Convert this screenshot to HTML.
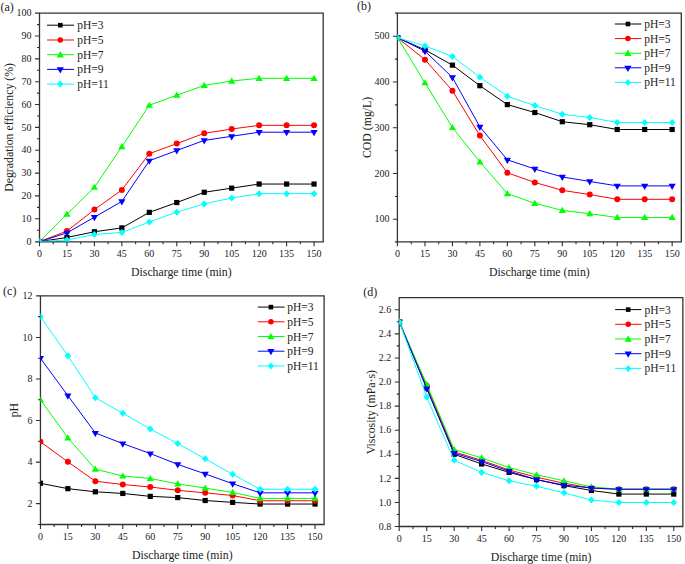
<!DOCTYPE html><html><head><meta charset="utf-8"><style>html,body{margin:0;padding:0;background:#fff;width:685px;height:564px;overflow:hidden}svg{display:block}text{font-family:"Liberation Serif", serif;fill:#222}</style></head><body>
<svg width="685" height="564" viewBox="0 0 685 564">
<g><text x="0.4" y="11.2" font-size="12">(a)</text><path d="M39.5 13.1H323.2V241.85H39.5Z" fill="none" stroke="#333333" stroke-width="1.3"/><text x="39.5" y="257.4" font-size="10" text-anchor="middle">0</text><text x="66.95" y="257.4" font-size="10" text-anchor="middle">15</text><text x="94.41" y="257.4" font-size="10" text-anchor="middle">30</text><text x="121.86" y="257.4" font-size="10" text-anchor="middle">45</text><text x="149.32" y="257.4" font-size="10" text-anchor="middle">60</text><text x="176.77" y="257.4" font-size="10" text-anchor="middle">75</text><text x="204.23" y="257.4" font-size="10" text-anchor="middle">90</text><text x="231.68" y="257.4" font-size="10" text-anchor="middle">105</text><text x="259.14" y="257.4" font-size="10" text-anchor="middle">120</text><text x="286.59" y="257.4" font-size="10" text-anchor="middle">135</text><text x="314.05" y="257.4" font-size="10" text-anchor="middle">150</text><text x="31.5" y="244.7" font-size="10" text-anchor="end">0</text><text x="31.5" y="221.86" font-size="10" text-anchor="end">10</text><text x="31.5" y="199.02" font-size="10" text-anchor="end">20</text><text x="31.5" y="176.18" font-size="10" text-anchor="end">30</text><text x="31.5" y="153.34" font-size="10" text-anchor="end">40</text><text x="31.5" y="130.5" font-size="10" text-anchor="end">50</text><text x="31.5" y="107.66" font-size="10" text-anchor="end">60</text><text x="31.5" y="84.82" font-size="10" text-anchor="end">70</text><text x="31.5" y="61.98" font-size="10" text-anchor="end">80</text><text x="31.5" y="39.14" font-size="10" text-anchor="end">90</text><text x="31.5" y="16.3" font-size="10" text-anchor="end">100</text><path d="M39.5 241.85V246.35M66.95 241.85V246.35M94.41 241.85V246.35M121.86 241.85V246.35M149.32 241.85V246.35M176.77 241.85V246.35M204.23 241.85V246.35M231.68 241.85V246.35M259.14 241.85V246.35M286.59 241.85V246.35M314.05 241.85V246.35M53.23 241.85V244.35M80.68 241.85V244.35M108.14 241.85V244.35M135.59 241.85V244.35M163.05 241.85V244.35M190.5 241.85V244.35M217.96 241.85V244.35M245.41 241.85V244.35M272.87 241.85V244.35M300.32 241.85V244.35M39.5 241.85H35M39.5 218.76H35M39.5 195.92H35M39.5 173.08H35M39.5 150.24H35M39.5 127.4H35M39.5 104.56H35M39.5 81.72H35M39.5 58.88H35M39.5 36.04H35M39.5 13.1H35M39.5 230.18H37M39.5 207.34H37M39.5 184.5H37M39.5 161.66H37M39.5 138.82H37M39.5 115.98H37M39.5 93.14H37M39.5 70.3H37M39.5 47.46H37M39.5 24.62H37" stroke="#303030" stroke-width="1.1" fill="none"/><text x="181.35" y="275.9" font-size="11.8" text-anchor="middle">Discharge time (min)</text><text transform="translate(12.7 127.4) rotate(-90)" font-size="11.8" text-anchor="middle">Degradation efficiency (%)</text><clipPath id="c0"><rect x="39.5" y="13.2" width="283.7" height="228.4"/></clipPath><g clip-path="url(#c0)"><polyline points="39.5,241.6 66.95,237.49 94.41,231.78 121.86,227.9 149.32,212.36 176.77,202.54 204.23,192.27 231.68,188.15 259.14,184.04 286.59,184.04 314.05,184.04" fill="none" stroke="#000000" stroke-width="1"/><rect x="36.9" y="239" width="5.2" height="5.2" fill="#000000"/><rect x="64.35" y="234.89" width="5.2" height="5.2" fill="#000000"/><rect x="91.81" y="229.18" width="5.2" height="5.2" fill="#000000"/><rect x="119.26" y="225.3" width="5.2" height="5.2" fill="#000000"/><rect x="146.72" y="209.76" width="5.2" height="5.2" fill="#000000"/><rect x="174.17" y="199.94" width="5.2" height="5.2" fill="#000000"/><rect x="201.63" y="189.67" width="5.2" height="5.2" fill="#000000"/><rect x="229.08" y="185.55" width="5.2" height="5.2" fill="#000000"/><rect x="256.54" y="181.44" width="5.2" height="5.2" fill="#000000"/><rect x="283.99" y="181.44" width="5.2" height="5.2" fill="#000000"/><rect x="311.45" y="181.44" width="5.2" height="5.2" fill="#000000"/><polyline points="39.5,241.6 66.95,231.09 94.41,209.62 121.86,189.98 149.32,153.67 176.77,143.62 204.23,133.34 231.68,129 259.14,125.34 286.59,125.34 314.05,125.34" fill="none" stroke="#ff0000" stroke-width="1"/><circle cx="39.5" cy="241.6" r="3" fill="#ff0000"/><circle cx="66.95" cy="231.09" r="3" fill="#ff0000"/><circle cx="94.41" cy="209.62" r="3" fill="#ff0000"/><circle cx="121.86" cy="189.98" r="3" fill="#ff0000"/><circle cx="149.32" cy="153.67" r="3" fill="#ff0000"/><circle cx="176.77" cy="143.62" r="3" fill="#ff0000"/><circle cx="204.23" cy="133.34" r="3" fill="#ff0000"/><circle cx="231.68" cy="129" r="3" fill="#ff0000"/><circle cx="259.14" cy="125.34" r="3" fill="#ff0000"/><circle cx="286.59" cy="125.34" r="3" fill="#ff0000"/><circle cx="314.05" cy="125.34" r="3" fill="#ff0000"/><polyline points="39.5,241.6 66.95,214.19 94.41,187.24 121.86,146.59 149.32,105.25 176.77,95.2 204.23,85.37 231.68,81.03 259.14,78.29 286.59,78.29 314.05,78.29" fill="none" stroke="#00ff00" stroke-width="1"/><path d="M39.5 238L43.1 244.2L35.9 244.2Z" fill="#00ff00"/><path d="M66.95 210.59L70.55 216.79L63.35 216.79Z" fill="#00ff00"/><path d="M94.41 183.64L98.01 189.84L90.81 189.84Z" fill="#00ff00"/><path d="M121.86 142.99L125.46 149.19L118.26 149.19Z" fill="#00ff00"/><path d="M149.32 101.65L152.92 107.85L145.72 107.85Z" fill="#00ff00"/><path d="M176.77 91.6L180.37 97.8L173.17 97.8Z" fill="#00ff00"/><path d="M204.23 81.77L207.83 87.97L200.63 87.97Z" fill="#00ff00"/><path d="M231.68 77.43L235.28 83.63L228.08 83.63Z" fill="#00ff00"/><path d="M259.14 74.69L262.74 80.89L255.54 80.89Z" fill="#00ff00"/><path d="M286.59 74.69L290.19 80.89L282.99 80.89Z" fill="#00ff00"/><path d="M314.05 74.69L317.65 80.89L310.45 80.89Z" fill="#00ff00"/><polyline points="39.5,241.6 66.95,232.92 94.41,217.16 121.86,201.4 149.32,160.75 176.77,150.47 204.23,140.42 231.68,136.31 259.14,132.2 286.59,132.2 314.05,132.2" fill="none" stroke="#0000ff" stroke-width="1"/><path d="M39.5 245.69L43.1 239.49L35.9 239.49Z" fill="#0000ff"/><path d="M66.95 237.01L70.55 230.81L63.35 230.81Z" fill="#0000ff"/><path d="M94.41 221.25L98.01 215.05L90.81 215.05Z" fill="#0000ff"/><path d="M121.86 205.49L125.46 199.29L118.26 199.29Z" fill="#0000ff"/><path d="M149.32 164.84L152.92 158.64L145.72 158.64Z" fill="#0000ff"/><path d="M176.77 154.56L180.37 148.36L173.17 148.36Z" fill="#0000ff"/><path d="M204.23 144.51L207.83 138.31L200.63 138.31Z" fill="#0000ff"/><path d="M231.68 140.4L235.28 134.2L228.08 134.2Z" fill="#0000ff"/><path d="M259.14 136.29L262.74 130.09L255.54 130.09Z" fill="#0000ff"/><path d="M286.59 136.29L290.19 130.09L282.99 130.09Z" fill="#0000ff"/><path d="M314.05 136.29L317.65 130.09L310.45 130.09Z" fill="#0000ff"/><polyline points="39.5,241.6 66.95,240 94.41,234.52 121.86,232.46 149.32,221.96 176.77,212.14 204.23,203.91 231.68,197.98 259.14,193.64 286.59,193.64 314.05,193.64" fill="none" stroke="#00ffff" stroke-width="1"/><path d="M39.5 238.1L42.85 241.6L39.5 245.1L36.15 241.6Z" fill="#00ffff"/><path d="M66.95 236.5L70.3 240L66.95 243.5L63.6 240Z" fill="#00ffff"/><path d="M94.41 231.02L97.76 234.52L94.41 238.02L91.06 234.52Z" fill="#00ffff"/><path d="M121.86 228.96L125.21 232.46L121.86 235.96L118.51 232.46Z" fill="#00ffff"/><path d="M149.32 218.46L152.67 221.96L149.32 225.46L145.97 221.96Z" fill="#00ffff"/><path d="M176.77 208.64L180.12 212.14L176.77 215.64L173.42 212.14Z" fill="#00ffff"/><path d="M204.23 200.41L207.58 203.91L204.23 207.41L200.88 203.91Z" fill="#00ffff"/><path d="M231.68 194.48L235.03 197.98L231.68 201.48L228.33 197.98Z" fill="#00ffff"/><path d="M259.14 190.14L262.49 193.64L259.14 197.14L255.79 193.64Z" fill="#00ffff"/><path d="M286.59 190.14L289.94 193.64L286.59 197.14L283.24 193.64Z" fill="#00ffff"/><path d="M314.05 190.14L317.4 193.64L314.05 197.14L310.7 193.64Z" fill="#00ffff"/></g><path d="M47.1 25.2H74" stroke="#000000" stroke-width="1"/><rect x="58" y="22.9" width="4.6" height="4.6" fill="#000000"/><text transform="translate(77.2 29.2) scale(0.96 1)" font-size="12">pH=3</text><path d="M47.1 40H74" stroke="#ff0000" stroke-width="1"/><circle cx="60.3" cy="40" r="2.75" fill="#ff0000"/><text transform="translate(77.2 44) scale(0.96 1)" font-size="12">pH=5</text><path d="M47.1 54.7H74" stroke="#00ff00" stroke-width="1"/><path d="M60.3 51.1L63.9 57.4L56.7 57.4Z" fill="#00ff00"/><text transform="translate(77.2 58.7) scale(0.96 1)" font-size="12">pH=7</text><path d="M47.1 69.4H74" stroke="#0000ff" stroke-width="1"/><path d="M60.3 73.56L63.9 67.26L56.7 67.26Z" fill="#0000ff"/><text transform="translate(77.2 73.4) scale(0.96 1)" font-size="12">pH=9</text><path d="M47.1 84.1H74" stroke="#00ffff" stroke-width="1"/><path d="M60.3 80.6L63.3 84.1L60.3 87.6L57.3 84.1Z" fill="#00ffff"/><text transform="translate(77.2 88.1) scale(0.96 1)" font-size="12">pH=11</text></g>
<g><text x="357" y="9.8" font-size="12">(b)</text><path d="M397.4 13.1H681.3V241.85H397.4Z" fill="none" stroke="#333333" stroke-width="1.3"/><text x="397.5" y="257.4" font-size="10" text-anchor="middle">0</text><text x="424.96" y="257.4" font-size="10" text-anchor="middle">15</text><text x="452.43" y="257.4" font-size="10" text-anchor="middle">30</text><text x="479.89" y="257.4" font-size="10" text-anchor="middle">45</text><text x="507.36" y="257.4" font-size="10" text-anchor="middle">60</text><text x="534.82" y="257.4" font-size="10" text-anchor="middle">75</text><text x="562.29" y="257.4" font-size="10" text-anchor="middle">90</text><text x="589.75" y="257.4" font-size="10" text-anchor="middle">105</text><text x="617.22" y="257.4" font-size="10" text-anchor="middle">120</text><text x="644.68" y="257.4" font-size="10" text-anchor="middle">135</text><text x="672.15" y="257.4" font-size="10" text-anchor="middle">150</text><text x="389.5" y="222.4" font-size="10" text-anchor="end">100</text><text x="389.5" y="176.65" font-size="10" text-anchor="end">200</text><text x="389.5" y="130.9" font-size="10" text-anchor="end">300</text><text x="389.5" y="85.15" font-size="10" text-anchor="end">400</text><text x="389.5" y="39.4" font-size="10" text-anchor="end">500</text><path d="M397.4 241.85V246.35M424.96 241.85V246.35M452.43 241.85V246.35M479.89 241.85V246.35M507.36 241.85V246.35M534.82 241.85V246.35M562.29 241.85V246.35M589.75 241.85V246.35M617.22 241.85V246.35M644.68 241.85V246.35M672.15 241.85V246.35M411.23 241.85V244.35M438.7 241.85V244.35M466.16 241.85V244.35M493.63 241.85V244.35M521.09 241.85V244.35M548.55 241.85V244.35M576.02 241.85V244.35M603.48 241.85V244.35M630.95 241.85V244.35M658.41 241.85V244.35M397.4 219.3H392.9M397.4 173.55H392.9M397.4 127.8H392.9M397.4 82.05H392.9M397.4 36.3H392.9M397.4 241.85H394.9M397.4 196.43H394.9M397.4 150.68H394.9M397.4 104.92H394.9M397.4 59.17H394.9M397.4 13.1H394.9" stroke="#303030" stroke-width="1.1" fill="none"/><text x="539.4" y="275.9" font-size="11.8" text-anchor="middle">Discharge time (min)</text><text transform="translate(371.3 127.4) rotate(-90)" font-size="11.8" text-anchor="middle">COD (mg/L)</text><clipPath id="c1"><rect x="397.5" y="13.2" width="283.8" height="228.4"/></clipPath><g clip-path="url(#c1)"><polyline points="397.5,37.67 424.96,49.8 452.43,65.12 479.89,85.71 507.36,104.6 534.82,112.52 562.29,121.72 589.75,124.69 617.22,129.49 644.68,129.49 672.15,129.49" fill="none" stroke="#000000" stroke-width="1"/><rect x="394.9" y="35.07" width="5.2" height="5.2" fill="#000000"/><rect x="422.36" y="47.2" width="5.2" height="5.2" fill="#000000"/><rect x="449.83" y="62.52" width="5.2" height="5.2" fill="#000000"/><rect x="477.29" y="83.11" width="5.2" height="5.2" fill="#000000"/><rect x="504.76" y="102" width="5.2" height="5.2" fill="#000000"/><rect x="532.22" y="109.92" width="5.2" height="5.2" fill="#000000"/><rect x="559.69" y="119.12" width="5.2" height="5.2" fill="#000000"/><rect x="587.15" y="122.09" width="5.2" height="5.2" fill="#000000"/><rect x="614.62" y="126.89" width="5.2" height="5.2" fill="#000000"/><rect x="642.08" y="126.89" width="5.2" height="5.2" fill="#000000"/><rect x="669.55" y="126.89" width="5.2" height="5.2" fill="#000000"/><polyline points="397.5,37.67 424.96,59.63 452.43,90.74 479.89,135.58 507.36,172.77 534.82,182.47 562.29,190.34 589.75,194.59 617.22,199.31 644.68,199.31 672.15,199.31" fill="none" stroke="#ff0000" stroke-width="1"/><circle cx="397.5" cy="37.67" r="3" fill="#ff0000"/><circle cx="424.96" cy="59.63" r="3" fill="#ff0000"/><circle cx="452.43" cy="90.74" r="3" fill="#ff0000"/><circle cx="479.89" cy="135.58" r="3" fill="#ff0000"/><circle cx="507.36" cy="172.77" r="3" fill="#ff0000"/><circle cx="534.82" cy="182.47" r="3" fill="#ff0000"/><circle cx="562.29" cy="190.34" r="3" fill="#ff0000"/><circle cx="589.75" cy="194.59" r="3" fill="#ff0000"/><circle cx="617.22" cy="199.31" r="3" fill="#ff0000"/><circle cx="644.68" cy="199.31" r="3" fill="#ff0000"/><circle cx="672.15" cy="199.31" r="3" fill="#ff0000"/><polyline points="397.5,37.67 424.96,82.74 452.43,127.48 479.89,161.88 507.36,193.68 534.82,203.29 562.29,210.42 589.75,213.72 617.22,217.47 644.68,217.47 672.15,217.47" fill="none" stroke="#00ff00" stroke-width="1"/><path d="M397.5 34.07L401.1 40.27L393.9 40.27Z" fill="#00ff00"/><path d="M424.96 79.14L428.56 85.34L421.36 85.34Z" fill="#00ff00"/><path d="M452.43 123.88L456.03 130.08L448.83 130.08Z" fill="#00ff00"/><path d="M479.89 158.28L483.49 164.48L476.29 164.48Z" fill="#00ff00"/><path d="M507.36 190.08L510.96 196.28L503.76 196.28Z" fill="#00ff00"/><path d="M534.82 199.69L538.42 205.89L531.22 205.89Z" fill="#00ff00"/><path d="M562.29 206.82L565.89 213.02L558.69 213.02Z" fill="#00ff00"/><path d="M589.75 210.12L593.35 216.32L586.15 216.32Z" fill="#00ff00"/><path d="M617.22 213.87L620.82 220.07L613.62 220.07Z" fill="#00ff00"/><path d="M644.68 213.87L648.28 220.07L641.08 220.07Z" fill="#00ff00"/><path d="M672.15 213.87L675.75 220.07L668.55 220.07Z" fill="#00ff00"/><polyline points="397.5,37.67 424.96,51.17 452.43,77.47 479.89,126.88 507.36,159.82 534.82,168.97 562.29,176.94 589.75,181.46 617.22,185.9 644.68,185.9 672.15,185.9" fill="none" stroke="#0000ff" stroke-width="1"/><path d="M397.5 41.76L401.1 35.56L393.9 35.56Z" fill="#0000ff"/><path d="M424.96 55.26L428.56 49.06L421.36 49.06Z" fill="#0000ff"/><path d="M452.43 81.57L456.03 75.37L448.83 75.37Z" fill="#0000ff"/><path d="M479.89 130.98L483.49 124.78L476.29 124.78Z" fill="#0000ff"/><path d="M507.36 163.92L510.96 157.72L503.76 157.72Z" fill="#0000ff"/><path d="M534.82 173.07L538.42 166.87L531.22 166.87Z" fill="#0000ff"/><path d="M562.29 181.03L565.89 174.83L558.69 174.83Z" fill="#0000ff"/><path d="M589.75 185.56L593.35 179.36L586.15 179.36Z" fill="#0000ff"/><path d="M617.22 189.99L620.82 183.79L613.62 183.79Z" fill="#0000ff"/><path d="M644.68 189.99L648.28 183.79L641.08 183.79Z" fill="#0000ff"/><path d="M672.15 189.99L675.75 183.79L668.55 183.79Z" fill="#0000ff"/><polyline points="397.5,37.67 424.96,45.91 452.43,56.43 479.89,77.25 507.36,96.23 534.82,105.61 562.29,114.21 589.75,117.51 617.22,122.49 644.68,122.49 672.15,122.49" fill="none" stroke="#00ffff" stroke-width="1"/><path d="M397.5 34.17L400.85 37.67L397.5 41.17L394.15 37.67Z" fill="#00ffff"/><path d="M424.96 42.41L428.31 45.91L424.96 49.41L421.61 45.91Z" fill="#00ffff"/><path d="M452.43 52.93L455.78 56.43L452.43 59.93L449.08 56.43Z" fill="#00ffff"/><path d="M479.89 73.75L483.24 77.25L479.89 80.75L476.54 77.25Z" fill="#00ffff"/><path d="M507.36 92.73L510.71 96.23L507.36 99.73L504.01 96.23Z" fill="#00ffff"/><path d="M534.82 102.11L538.17 105.61L534.82 109.11L531.47 105.61Z" fill="#00ffff"/><path d="M562.29 110.71L565.64 114.21L562.29 117.71L558.94 114.21Z" fill="#00ffff"/><path d="M589.75 114.01L593.1 117.51L589.75 121.01L586.4 117.51Z" fill="#00ffff"/><path d="M617.22 118.99L620.57 122.49L617.22 125.99L613.87 122.49Z" fill="#00ffff"/><path d="M644.68 118.99L648.03 122.49L644.68 125.99L641.33 122.49Z" fill="#00ffff"/><path d="M672.15 118.99L675.5 122.49L672.15 125.99L668.8 122.49Z" fill="#00ffff"/></g><path d="M614.8 24H641.4" stroke="#000000" stroke-width="1"/><rect x="625.6" y="21.7" width="4.6" height="4.6" fill="#000000"/><text transform="translate(644.2 28) scale(0.96 1)" font-size="12">pH=3</text><path d="M614.8 38.6H641.4" stroke="#ff0000" stroke-width="1"/><circle cx="627.9" cy="38.6" r="2.75" fill="#ff0000"/><text transform="translate(644.2 42.6) scale(0.96 1)" font-size="12">pH=5</text><path d="M614.8 53.2H641.4" stroke="#00ff00" stroke-width="1"/><path d="M627.9 49.6L631.5 55.9L624.3 55.9Z" fill="#00ff00"/><text transform="translate(644.2 57.2) scale(0.96 1)" font-size="12">pH=7</text><path d="M614.8 67.8H641.4" stroke="#0000ff" stroke-width="1"/><path d="M627.9 71.96L631.5 65.66L624.3 65.66Z" fill="#0000ff"/><text transform="translate(644.2 71.8) scale(0.96 1)" font-size="12">pH=9</text><path d="M614.8 82.4H641.4" stroke="#00ffff" stroke-width="1"/><path d="M627.9 78.9L630.9 82.4L627.9 85.9L624.9 82.4Z" fill="#00ffff"/><text transform="translate(644.2 86.4) scale(0.96 1)" font-size="12">pH=11</text></g>
<g><text x="3.1" y="294.5" font-size="12">(c)</text><path d="M40.45 295.9H324.1V524.5H40.45Z" fill="none" stroke="#333333" stroke-width="1.3"/><text x="40.4" y="540.2" font-size="10" text-anchor="middle">0</text><text x="67.86" y="540.2" font-size="10" text-anchor="middle">15</text><text x="95.33" y="540.2" font-size="10" text-anchor="middle">30</text><text x="122.79" y="540.2" font-size="10" text-anchor="middle">45</text><text x="150.26" y="540.2" font-size="10" text-anchor="middle">60</text><text x="177.72" y="540.2" font-size="10" text-anchor="middle">75</text><text x="205.19" y="540.2" font-size="10" text-anchor="middle">90</text><text x="232.65" y="540.2" font-size="10" text-anchor="middle">105</text><text x="260.12" y="540.2" font-size="10" text-anchor="middle">120</text><text x="287.58" y="540.2" font-size="10" text-anchor="middle">135</text><text x="315.05" y="540.2" font-size="10" text-anchor="middle">150</text><text x="32.4" y="506.73" font-size="10" text-anchor="end">2</text><text x="32.4" y="465.18" font-size="10" text-anchor="end">4</text><text x="32.4" y="423.64" font-size="10" text-anchor="end">6</text><text x="32.4" y="382.09" font-size="10" text-anchor="end">8</text><text x="32.4" y="340.55" font-size="10" text-anchor="end">10</text><text x="32.4" y="299" font-size="10" text-anchor="end">12</text><path d="M40.45 524.5V529M67.86 524.5V529M95.33 524.5V529M122.79 524.5V529M150.26 524.5V529M177.72 524.5V529M205.19 524.5V529M232.65 524.5V529M260.12 524.5V529M287.58 524.5V529M315.05 524.5V529M54.13 524.5V527M81.6 524.5V527M109.06 524.5V527M136.53 524.5V527M163.99 524.5V527M191.45 524.5V527M218.92 524.5V527M246.38 524.5V527M273.85 524.5V527M301.31 524.5V527M40.45 503.63H35.95M40.45 462.08H35.95M40.45 420.54H35.95M40.45 378.99H35.95M40.45 337.45H35.95M40.45 295.9H35.95M40.45 524.5H37.95M40.45 482.85H37.95M40.45 441.31H37.95M40.45 399.76H37.95M40.45 358.22H37.95M40.45 316.67H37.95" stroke="#303030" stroke-width="1.1" fill="none"/><text x="182.3" y="558.7" font-size="11.8" text-anchor="middle">Discharge time (min)</text><text transform="translate(18 410.15) rotate(-90)" font-size="11.8" text-anchor="middle">pH</text><clipPath id="c2"><rect x="40.4" y="295.9" width="283.8" height="228.5"/></clipPath><g clip-path="url(#c2)"><polyline points="40.4,483.27 67.86,488.67 95.33,491.79 122.79,493.45 150.26,496.36 177.72,497.6 205.19,500.51 232.65,502.38 260.12,504.04 287.58,504.04 315.05,504.04" fill="none" stroke="#000000" stroke-width="1"/><rect x="37.8" y="480.67" width="5.2" height="5.2" fill="#000000"/><rect x="65.26" y="486.07" width="5.2" height="5.2" fill="#000000"/><rect x="92.73" y="489.19" width="5.2" height="5.2" fill="#000000"/><rect x="120.19" y="490.85" width="5.2" height="5.2" fill="#000000"/><rect x="147.66" y="493.76" width="5.2" height="5.2" fill="#000000"/><rect x="175.12" y="495" width="5.2" height="5.2" fill="#000000"/><rect x="202.59" y="497.91" width="5.2" height="5.2" fill="#000000"/><rect x="230.05" y="499.78" width="5.2" height="5.2" fill="#000000"/><rect x="257.52" y="501.44" width="5.2" height="5.2" fill="#000000"/><rect x="284.98" y="501.44" width="5.2" height="5.2" fill="#000000"/><rect x="312.45" y="501.44" width="5.2" height="5.2" fill="#000000"/><polyline points="40.4,441.72 67.86,461.87 95.33,481.19 122.79,484.52 150.26,487.01 177.72,490.33 205.19,492.83 232.65,495.53 260.12,500.72 287.58,500.72 315.05,500.72" fill="none" stroke="#ff0000" stroke-width="1"/><circle cx="40.4" cy="441.72" r="3" fill="#ff0000"/><circle cx="67.86" cy="461.87" r="3" fill="#ff0000"/><circle cx="95.33" cy="481.19" r="3" fill="#ff0000"/><circle cx="122.79" cy="484.52" r="3" fill="#ff0000"/><circle cx="150.26" cy="487.01" r="3" fill="#ff0000"/><circle cx="177.72" cy="490.33" r="3" fill="#ff0000"/><circle cx="205.19" cy="492.83" r="3" fill="#ff0000"/><circle cx="232.65" cy="495.53" r="3" fill="#ff0000"/><circle cx="260.12" cy="500.72" r="3" fill="#ff0000"/><circle cx="287.58" cy="500.72" r="3" fill="#ff0000"/><circle cx="315.05" cy="500.72" r="3" fill="#ff0000"/><polyline points="40.4,399.76 67.86,437.78 95.33,469.14 122.79,476 150.26,478.49 177.72,483.89 205.19,488.05 232.65,492.41 260.12,498.43 287.58,498.43 315.05,498.43" fill="none" stroke="#00ff00" stroke-width="1"/><path d="M40.4 396.16L44 402.36L36.8 402.36Z" fill="#00ff00"/><path d="M67.86 434.18L71.46 440.38L64.26 440.38Z" fill="#00ff00"/><path d="M95.33 465.54L98.93 471.74L91.73 471.74Z" fill="#00ff00"/><path d="M122.79 472.4L126.39 478.6L119.19 478.6Z" fill="#00ff00"/><path d="M150.26 474.89L153.86 481.09L146.66 481.09Z" fill="#00ff00"/><path d="M177.72 480.29L181.32 486.49L174.12 486.49Z" fill="#00ff00"/><path d="M205.19 484.45L208.79 490.65L201.59 490.65Z" fill="#00ff00"/><path d="M232.65 488.81L236.25 495.01L229.05 495.01Z" fill="#00ff00"/><path d="M260.12 494.83L263.72 501.03L256.52 501.03Z" fill="#00ff00"/><path d="M287.58 494.83L291.18 501.03L283.98 501.03Z" fill="#00ff00"/><path d="M315.05 494.83L318.65 501.03L311.45 501.03Z" fill="#00ff00"/><polyline points="40.4,358.22 67.86,395.61 95.33,433 122.79,443.59 150.26,453.56 177.72,464.37 205.19,473.92 232.65,483.69 260.12,492.83 287.58,492.83 315.05,492.83" fill="none" stroke="#0000ff" stroke-width="1"/><path d="M40.4 362.31L44 356.11L36.8 356.11Z" fill="#0000ff"/><path d="M67.86 399.7L71.46 393.5L64.26 393.5Z" fill="#0000ff"/><path d="M95.33 437.09L98.93 430.89L91.73 430.89Z" fill="#0000ff"/><path d="M122.79 447.69L126.39 441.49L119.19 441.49Z" fill="#0000ff"/><path d="M150.26 457.66L153.86 451.46L146.66 451.46Z" fill="#0000ff"/><path d="M177.72 468.46L181.32 462.26L174.12 462.26Z" fill="#0000ff"/><path d="M205.19 478.01L208.79 471.81L201.59 471.81Z" fill="#0000ff"/><path d="M232.65 487.78L236.25 481.58L229.05 481.58Z" fill="#0000ff"/><path d="M260.12 496.92L263.72 490.72L256.52 490.72Z" fill="#0000ff"/><path d="M287.58 496.92L291.18 490.72L283.98 490.72Z" fill="#0000ff"/><path d="M315.05 496.92L318.65 490.72L311.45 490.72Z" fill="#0000ff"/><polyline points="40.4,316.67 67.86,355.73 95.33,397.69 122.79,413.27 150.26,429.05 177.72,443.59 205.19,458.76 232.65,474.34 260.12,489.29 287.58,489.29 315.05,489.29" fill="none" stroke="#00ffff" stroke-width="1"/><path d="M40.4 313.17L43.75 316.67L40.4 320.17L37.05 316.67Z" fill="#00ffff"/><path d="M67.86 352.23L71.21 355.73L67.86 359.23L64.51 355.73Z" fill="#00ffff"/><path d="M95.33 394.19L98.68 397.69L95.33 401.19L91.98 397.69Z" fill="#00ffff"/><path d="M122.79 409.77L126.14 413.27L122.79 416.77L119.44 413.27Z" fill="#00ffff"/><path d="M150.26 425.55L153.61 429.05L150.26 432.55L146.91 429.05Z" fill="#00ffff"/><path d="M177.72 440.09L181.07 443.59L177.72 447.09L174.37 443.59Z" fill="#00ffff"/><path d="M205.19 455.26L208.54 458.76L205.19 462.26L201.84 458.76Z" fill="#00ffff"/><path d="M232.65 470.84L236 474.34L232.65 477.84L229.3 474.34Z" fill="#00ffff"/><path d="M260.12 485.79L263.47 489.29L260.12 492.79L256.77 489.29Z" fill="#00ffff"/><path d="M287.58 485.79L290.93 489.29L287.58 492.79L284.23 489.29Z" fill="#00ffff"/><path d="M315.05 485.79L318.4 489.29L315.05 492.79L311.7 489.29Z" fill="#00ffff"/></g><path d="M257.8 307.1H284.5" stroke="#000000" stroke-width="1"/><rect x="268.6" y="304.8" width="4.6" height="4.6" fill="#000000"/><text transform="translate(287.2 311.1) scale(0.96 1)" font-size="12">pH=3</text><path d="M257.8 321.8H284.5" stroke="#ff0000" stroke-width="1"/><circle cx="270.9" cy="321.8" r="2.75" fill="#ff0000"/><text transform="translate(287.2 325.8) scale(0.96 1)" font-size="12">pH=5</text><path d="M257.8 336.5H284.5" stroke="#00ff00" stroke-width="1"/><path d="M270.9 332.9L274.5 339.2L267.3 339.2Z" fill="#00ff00"/><text transform="translate(287.2 340.5) scale(0.96 1)" font-size="12">pH=7</text><path d="M257.8 351.2H284.5" stroke="#0000ff" stroke-width="1"/><path d="M270.9 355.36L274.5 349.06L267.3 349.06Z" fill="#0000ff"/><text transform="translate(287.2 355.2) scale(0.96 1)" font-size="12">pH=9</text><path d="M257.8 365.9H284.5" stroke="#00ffff" stroke-width="1"/><path d="M270.9 362.4L273.9 365.9L270.9 369.4L267.9 365.9Z" fill="#00ffff"/><text transform="translate(287.2 369.9) scale(0.96 1)" font-size="12">pH=11</text></g>
<g><text x="363.2" y="295.7" font-size="12">(d)</text><path d="M399.2 297.6H682.85V526.5H399.2Z" fill="none" stroke="#333333" stroke-width="1.3"/><text x="399.3" y="542.4" font-size="10" text-anchor="middle">0</text><text x="426.75" y="542.4" font-size="10" text-anchor="middle">15</text><text x="454.19" y="542.4" font-size="10" text-anchor="middle">30</text><text x="481.64" y="542.4" font-size="10" text-anchor="middle">45</text><text x="509.08" y="542.4" font-size="10" text-anchor="middle">60</text><text x="536.53" y="542.4" font-size="10" text-anchor="middle">75</text><text x="563.97" y="542.4" font-size="10" text-anchor="middle">90</text><text x="591.42" y="542.4" font-size="10" text-anchor="middle">105</text><text x="618.86" y="542.4" font-size="10" text-anchor="middle">120</text><text x="646.31" y="542.4" font-size="10" text-anchor="middle">135</text><text x="673.75" y="542.4" font-size="10" text-anchor="middle">150</text><text x="391.3" y="529.7" font-size="10" text-anchor="end">0.8</text><text x="391.3" y="505.61" font-size="10" text-anchor="end">1.0</text><text x="391.3" y="481.51" font-size="10" text-anchor="end">1.2</text><text x="391.3" y="457.42" font-size="10" text-anchor="end">1.4</text><text x="391.3" y="433.32" font-size="10" text-anchor="end">1.6</text><text x="391.3" y="409.23" font-size="10" text-anchor="end">1.8</text><text x="391.3" y="385.13" font-size="10" text-anchor="end">2.0</text><text x="391.3" y="361.04" font-size="10" text-anchor="end">2.2</text><text x="391.3" y="336.94" font-size="10" text-anchor="end">2.4</text><text x="391.3" y="312.85" font-size="10" text-anchor="end">2.6</text><path d="M399.2 526.5V531M426.75 526.5V531M454.19 526.5V531M481.64 526.5V531M509.08 526.5V531M536.53 526.5V531M563.97 526.5V531M591.42 526.5V531M618.86 526.5V531M646.31 526.5V531M673.75 526.5V531M413.02 526.5V529M440.47 526.5V529M467.91 526.5V529M495.36 526.5V529M522.8 526.5V529M550.25 526.5V529M577.69 526.5V529M605.14 526.5V529M632.58 526.5V529M660.03 526.5V529M399.2 526.5H394.7M399.2 502.51H394.7M399.2 478.41H394.7M399.2 454.32H394.7M399.2 430.22H394.7M399.2 406.13H394.7M399.2 382.03H394.7M399.2 357.94H394.7M399.2 333.84H394.7M399.2 309.75H394.7M399.2 514.55H396.7M399.2 490.46H396.7M399.2 466.36H396.7M399.2 442.27H396.7M399.2 418.17H396.7M399.2 394.08H396.7M399.2 369.98H396.7M399.2 345.89H396.7M399.2 321.79H396.7" stroke="#303030" stroke-width="1.1" fill="none"/><text x="541.1" y="560.9" font-size="11.8" text-anchor="middle">Discharge time (min)</text><text transform="translate(375 412.15) rotate(-90)" font-size="11.8" text-anchor="middle">Viscosity (mPa·s)</text><clipPath id="c3"><rect x="399.3" y="297.7" width="283.6" height="228.9"/></clipPath><g clip-path="url(#c3)"><polyline points="399.3,321.79 426.75,388.06 454.19,454.32 481.64,463.95 509.08,472.39 536.53,479.62 563.97,485.64 591.42,490.46 618.86,494.07 646.31,494.07 673.75,494.07" fill="none" stroke="#000000" stroke-width="1"/><rect x="396.7" y="319.19" width="5.2" height="5.2" fill="#000000"/><rect x="424.15" y="385.46" width="5.2" height="5.2" fill="#000000"/><rect x="451.59" y="451.72" width="5.2" height="5.2" fill="#000000"/><rect x="479.04" y="461.35" width="5.2" height="5.2" fill="#000000"/><rect x="506.48" y="469.79" width="5.2" height="5.2" fill="#000000"/><rect x="533.93" y="477.02" width="5.2" height="5.2" fill="#000000"/><rect x="561.37" y="483.04" width="5.2" height="5.2" fill="#000000"/><rect x="588.82" y="487.86" width="5.2" height="5.2" fill="#000000"/><rect x="616.26" y="491.47" width="5.2" height="5.2" fill="#000000"/><rect x="643.71" y="491.47" width="5.2" height="5.2" fill="#000000"/><rect x="671.15" y="491.47" width="5.2" height="5.2" fill="#000000"/><polyline points="399.3,321.79 426.75,385.65 454.19,451.91 481.64,460.34 509.08,469.98 536.53,477.21 563.97,483.23 591.42,488.05 618.86,489.25 646.31,489.25 673.75,489.25" fill="none" stroke="#ff0000" stroke-width="1"/><circle cx="399.3" cy="321.79" r="3" fill="#ff0000"/><circle cx="426.75" cy="385.65" r="3" fill="#ff0000"/><circle cx="454.19" cy="451.91" r="3" fill="#ff0000"/><circle cx="481.64" cy="460.34" r="3" fill="#ff0000"/><circle cx="509.08" cy="469.98" r="3" fill="#ff0000"/><circle cx="536.53" cy="477.21" r="3" fill="#ff0000"/><circle cx="563.97" cy="483.23" r="3" fill="#ff0000"/><circle cx="591.42" cy="488.05" r="3" fill="#ff0000"/><circle cx="618.86" cy="489.25" r="3" fill="#ff0000"/><circle cx="646.31" cy="489.25" r="3" fill="#ff0000"/><circle cx="673.75" cy="489.25" r="3" fill="#ff0000"/><polyline points="399.3,321.79 426.75,384.44 454.19,449.5 481.64,457.93 509.08,467.57 536.53,474.8 563.97,480.82 591.42,486.84 618.86,489.25 646.31,489.25 673.75,489.25" fill="none" stroke="#00ff00" stroke-width="1"/><path d="M399.3 318.19L402.9 324.39L395.7 324.39Z" fill="#00ff00"/><path d="M426.75 380.84L430.35 387.04L423.15 387.04Z" fill="#00ff00"/><path d="M454.19 445.9L457.79 452.1L450.59 452.1Z" fill="#00ff00"/><path d="M481.64 454.33L485.24 460.53L478.04 460.53Z" fill="#00ff00"/><path d="M509.08 463.97L512.68 470.17L505.48 470.17Z" fill="#00ff00"/><path d="M536.53 471.2L540.13 477.4L532.93 477.4Z" fill="#00ff00"/><path d="M563.97 477.22L567.57 483.42L560.37 483.42Z" fill="#00ff00"/><path d="M591.42 483.24L595.02 489.44L587.82 489.44Z" fill="#00ff00"/><path d="M618.86 485.65L622.46 491.85L615.26 491.85Z" fill="#00ff00"/><path d="M646.31 485.65L649.91 491.85L642.71 491.85Z" fill="#00ff00"/><path d="M673.75 485.65L677.35 491.85L670.15 491.85Z" fill="#00ff00"/><polyline points="399.3,321.79 426.75,388.66 454.19,453.11 481.64,461.54 509.08,471.18 536.53,479.62 563.97,485.04 591.42,488.05 618.86,489.25 646.31,489.25 673.75,489.25" fill="none" stroke="#0000ff" stroke-width="1"/><path d="M399.3 325.89L402.9 319.69L395.7 319.69Z" fill="#0000ff"/><path d="M426.75 392.75L430.35 386.55L423.15 386.55Z" fill="#0000ff"/><path d="M454.19 457.2L457.79 451L450.59 451Z" fill="#0000ff"/><path d="M481.64 465.64L485.24 459.44L478.04 459.44Z" fill="#0000ff"/><path d="M509.08 475.27L512.68 469.07L505.48 469.07Z" fill="#0000ff"/><path d="M536.53 483.71L540.13 477.51L532.93 477.51Z" fill="#0000ff"/><path d="M563.97 489.13L567.57 482.93L560.37 482.93Z" fill="#0000ff"/><path d="M591.42 492.14L595.02 485.94L587.82 485.94Z" fill="#0000ff"/><path d="M618.86 493.35L622.46 487.15L615.26 487.15Z" fill="#0000ff"/><path d="M646.31 493.35L649.91 487.15L642.71 487.15Z" fill="#0000ff"/><path d="M673.75 493.35L677.35 487.15L670.15 487.15Z" fill="#0000ff"/><polyline points="399.3,321.79 426.75,397.09 454.19,460.34 481.64,472.39 509.08,480.82 536.53,486.24 563.97,492.87 591.42,500.1 618.86,502.51 646.31,502.51 673.75,502.51" fill="none" stroke="#00ffff" stroke-width="1"/><path d="M399.3 318.29L402.65 321.79L399.3 325.29L395.95 321.79Z" fill="#00ffff"/><path d="M426.75 393.59L430.1 397.09L426.75 400.59L423.4 397.09Z" fill="#00ffff"/><path d="M454.19 456.84L457.54 460.34L454.19 463.84L450.84 460.34Z" fill="#00ffff"/><path d="M481.64 468.89L484.99 472.39L481.64 475.89L478.29 472.39Z" fill="#00ffff"/><path d="M509.08 477.32L512.43 480.82L509.08 484.32L505.73 480.82Z" fill="#00ffff"/><path d="M536.53 482.74L539.88 486.24L536.53 489.74L533.18 486.24Z" fill="#00ffff"/><path d="M563.97 489.37L567.32 492.87L563.97 496.37L560.62 492.87Z" fill="#00ffff"/><path d="M591.42 496.6L594.77 500.1L591.42 503.6L588.07 500.1Z" fill="#00ffff"/><path d="M618.86 499.01L622.21 502.51L618.86 506.01L615.51 502.51Z" fill="#00ffff"/><path d="M646.31 499.01L649.66 502.51L646.31 506.01L642.96 502.51Z" fill="#00ffff"/><path d="M673.75 499.01L677.1 502.51L673.75 506.01L670.4 502.51Z" fill="#00ffff"/></g><path d="M615.1 309.6H641.4" stroke="#000000" stroke-width="1"/><rect x="625.9" y="307.3" width="4.6" height="4.6" fill="#000000"/><text transform="translate(644.5 313.6) scale(0.96 1)" font-size="12">pH=3</text><path d="M615.1 324.3H641.4" stroke="#ff0000" stroke-width="1"/><circle cx="628.2" cy="324.3" r="2.75" fill="#ff0000"/><text transform="translate(644.5 328.3) scale(0.96 1)" font-size="12">pH=5</text><path d="M615.1 339H641.4" stroke="#00ff00" stroke-width="1"/><path d="M628.2 335.4L631.8 341.7L624.6 341.7Z" fill="#00ff00"/><text transform="translate(644.5 343) scale(0.96 1)" font-size="12">pH=7</text><path d="M615.1 353.7H641.4" stroke="#0000ff" stroke-width="1"/><path d="M628.2 357.86L631.8 351.56L624.6 351.56Z" fill="#0000ff"/><text transform="translate(644.5 357.7) scale(0.96 1)" font-size="12">pH=9</text><path d="M615.1 368.4H641.4" stroke="#00ffff" stroke-width="1"/><path d="M628.2 364.9L631.2 368.4L628.2 371.9L625.2 368.4Z" fill="#00ffff"/><text transform="translate(644.5 372.4) scale(0.96 1)" font-size="12">pH=11</text></g>
</svg></body></html>
